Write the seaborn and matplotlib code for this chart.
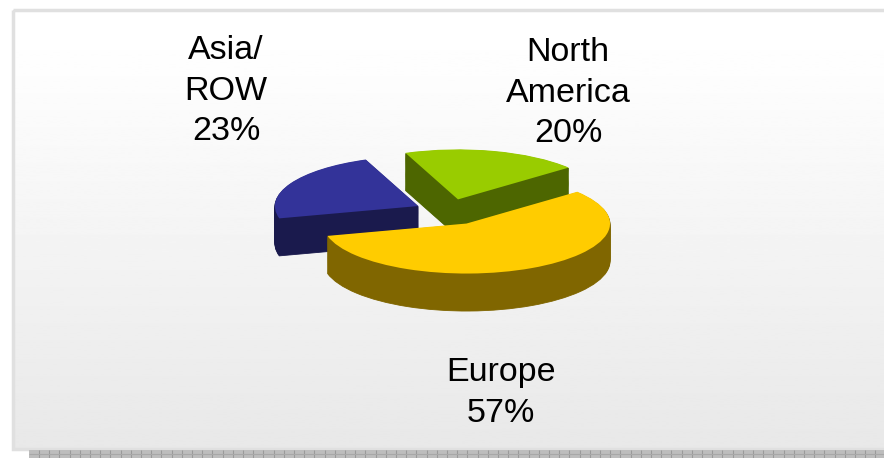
import numpy as np
import matplotlib
matplotlib.use("Agg")
import matplotlib.pyplot as plt
import seaborn as sns
from matplotlib.patches import Rectangle

regions = ["North\nAmerica", "Asia/\nROW", "Europe"]
shares = [20, 23, 57]
top_colors = ["#99CC00", "#333399", "#FFCC00"]
side_colors = ["#4D6600", "#1A1A4D", "#806600"]
explode = [0.25, 0.24, 0.27]
label_px = [(568, 93), (226, 91), (501, 393)]

W, H = 884, 458
sns.set_theme(style="white")
plt.rcParams["font.family"] = ["Liberation Sans", "DejaVu Sans"]

fig = plt.figure(figsize=(W / 100, H / 100), dpi=100, facecolor="white")

# backdrop card, working in pixels
bg = fig.add_axes([0, 0, 1, 1], zorder=0)
bg.set_xlim(0, W)
bg.set_ylim(H, 0)
bg.axis("off")
grad = np.interp(np.linspace(0, 1, 256), [0, 0.12, 1], [1.0, 0.995, 0.91])
bg.imshow(grad[:, None], extent=(13, W, 449, 10), cmap="gray", vmin=0, vmax=1,
          aspect="auto", zorder=1)
bg.set_xlim(0, W)
bg.set_ylim(H, 0)
bg.add_patch(Rectangle((13, 10), W, 439, fill=False, ec="#E0E0E0", lw=2.5, zorder=2))
bg.add_patch(Rectangle((29, 450), W - 29, 8, fc="#BDBDBD", ec="none", zorder=2))
bg.vlines(np.arange(39, W, 10.2), 450, 458, color="#9A9A9A", lw=0.8, zorder=3)
bg.hlines(454, 29, W, color="#A8A8A8", lw=0.8, zorder=3)

# pie: one data unit = rx across and ry down, which squashes the circle
rx, ry = 143.5, 50
cx, cy = 449, 211.5
depth = 37.5 / ry
ax = fig.add_axes([0, 0, 1, 1], zorder=1)
ax.patch.set_alpha(0)

layers = 40
for k in range(layers, -1, -1):
    off = -depth * k / layers
    colors = top_colors if k == 0 else side_colors
    wedges, _ = ax.pie(shares, colors=colors, explode=explode, startangle=39.5,
                       center=(0, off), radius=1,
                       wedgeprops=dict(linewidth=0.6 if k else 0, antialiased=True))
    for i, w in enumerate(wedges):
        w.set_edgecolor(colors[i])
        # the large front slice hides the other two wherever they overlap
        w.set_zorder((10 if i == 2 else 1) + (layers - k) * 0.01)

ax.set_aspect("auto")
ax.set_xlim(-cx / rx, (W - cx) / rx)
ax.set_ylim((cy - H) / ry, cy / ry)
ax.axis("off")

for name, share, (px, py) in zip(regions, shares, label_px):
    fig.text(px / W, 1 - py / H, f"{name}\n{share}%", ha="center", va="center",
             fontsize=24.5, color="black", linespacing=1.41, zorder=5)

fig.savefig("out.png", dpi=100)
